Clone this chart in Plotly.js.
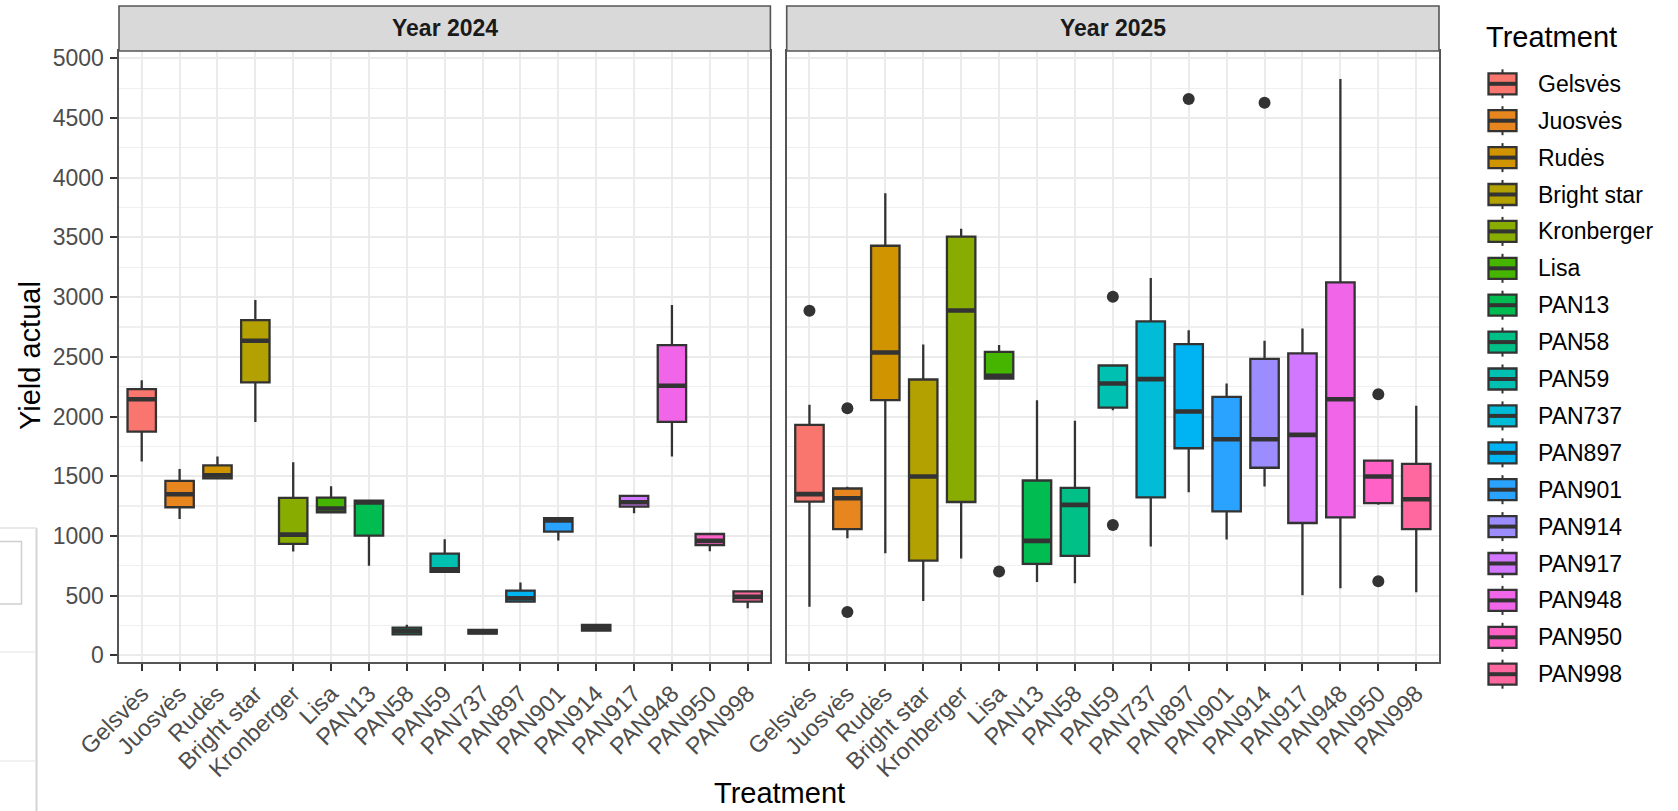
<!DOCTYPE html>
<html>
<head>
<meta charset="utf-8">
<script src="https://cdn.plot.ly/plotly-3.0.1.min.js"></script>
<style>
  html, body { margin: 0; padding: 0; background: #ffffff; }
  #chart { width: 1678px; height: 811px; }
</style>
</head>
<body>
<div id="chart"></div>
<script>
// ---------------- DATA ----------------
const treatments = ["Gelsvės","Juosvės","Rudės","Bright star","Kronberger","Lisa","PAN13","PAN58","PAN59","PAN737","PAN897","PAN901","PAN914","PAN917","PAN948","PAN950","PAN998"];
const years = ["Year 2024", "Year 2025"];

// Year 2024 box statistics (whisker low, Q1, median, Q3, whisker high)
const low2024    = [1623, 1142, 1480, 1953,  869, 1198,  751, 173, 698, 178, 444,  961, 204, 1190, 1665,  871, 394];
const q1_2024    = [1874, 1240, 1482, 2285,  933, 1198, 1003, 176, 700, 182, 450, 1036, 206, 1245, 1955,  924, 449];
const med2024    = [2145, 1349, 1508, 2634, 1011, 1229, 1280, 204, 720, 196, 478, 1130, 229, 1282, 2257,  960, 489];
const q3_2024    = [2229, 1461, 1590, 2807, 1318, 1321, 1296, 232, 852, 212, 542, 1148, 254, 1335, 2598, 1016, 536];
const high2024   = [2304, 1561, 1665, 2975, 1617, 1416, 1296, 255, 972, 218, 609, 1148, 265, 1335, 2933, 1016, 536];

// Year 2025 box statistics
const low2025    = [ 407,  980,  855,  455,  810, 2318,  615,  603, 2053,  912, 1366,  970, 1413,  503,  561, 1260,  528];
const q1_2025    = [1287, 1056, 2137,  793, 1284, 2318,  765,  833, 2075, 1322, 1734, 1206, 1571, 1108, 1156, 1274, 1056];
const med2025    = [1350, 1315, 2536, 1497, 2888, 2341,  958, 1260, 2277, 2313, 2042, 1810, 1810, 1846, 2145, 1497, 1307];
const q3_2025    = [1930, 1397, 3430, 2310, 3506, 2542, 1464, 1402, 2427, 2796, 2606, 2165, 2483, 2528, 3123, 1631, 1603];
const high2025   = [2098, 1411, 3869, 2603, 3573, 2598, 2137, 1964, 2427, 3160, 2723, 2277, 2634, 2737, 4827, 1631, 2089];

// Outliers (Year 2025)
const outTreat2025 = ["Gelsvės","Juosvės","Juosvės","Lisa","PAN59","PAN59","PAN897","PAN914","PAN950","PAN950"];
const outVal2025   = [2885, 2070, 363, 701, 3003, 1092, 4659, 4628, 2187, 620];
const outTreat2024 = [];
const outVal2024   = [];

const yTicks = [0, 500, 1000, 1500, 2000, 2500, 3000, 3500, 4000, 4500, 5000];

// ---------------- STYLE HELPERS ----------------
// ggplot2 default hue palette: hcl(h, c=100, l=65)
function hclHex(h, c, l) {
  const WX = 95.047, WY = 100.0, WZ = 108.883;
  const hr = h * Math.PI / 180;
  const U = c * Math.cos(hr), V = c * Math.sin(hr);
  const Y = l > 7.999592 ? WY * Math.pow((l + 16) / 116, 3) : WY * l / 903.3;
  const den = WX + 15 * WY + 3 * WZ;
  const un = 4 * WX / den, vn = 9 * WY / den;
  const u = U / (13 * l) + un, v = V / (13 * l) + vn;
  const X = 9.0 * Y * u / (4 * v);
  const Z = -X / 3 - 5 * Y + 3 * Y / v;
  const g = x => x > 0.00304 ? 1.055 * Math.pow(x, 1 / 2.4) - 0.055 : 12.92 * x;
  const r = g(( 3.240479 * X - 1.537150 * Y - 0.498535 * Z) / WY);
  const gg = g((-0.969256 * X + 1.875992 * Y + 0.041556 * Z) / WY);
  const b = g(( 0.055648 * X - 0.204043 * Y + 1.057311 * Z) / WY);
  const to = x => { const n = Math.round(Math.min(1, Math.max(0, x)) * 255); return n.toString(16).padStart(2, '0'); };
  return '#' + to(r) + to(gg) + to(b);
}
const nT = treatments.length;
const colors = treatments.map((t, i) => hclHex(15 + 360 * i / nT, 100, 65));

const FONT = "'Liberation Sans', Arial, Helvetica, sans-serif";
const W = 1678, H = 811, ML = 119, MR = 239, MT = 51, MB = 149;
const plotW = W - ML - MR, plotH = H - MT - MB;
const px2x = p => (p - ML) / plotW;
const px2y = p => (H - MB - p) / plotH;

const lineCol = '#333333';
const stats = {
  x:  {low: low2024, q1: q1_2024, med: med2024, q3: q3_2024, high: high2024, outT: outTreat2024, outV: outVal2024},
  x2: {low: low2025, q1: q1_2025, med: med2025, q3: q3_2025, high: high2025, outT: outTreat2025, outV: outVal2025}
};

// ---------------- TRACES ----------------
const traces = [];
['x', 'x2'].forEach((xa, k) => {
  const s = stats[xa];
  const ya = k === 0 ? 'y' : 'y2';
  treatments.forEach((t, i) => {
    traces.push({
      type: 'box', xaxis: xa, yaxis: ya, name: t, showlegend: false,
      x: [t], q1: [s.q1[i]], median: [s.med[i]], q3: [s.q3[i]],
      lowerfence: [s.low[i]], upperfence: [s.high[i]],
      width: 0.75, whiskerwidth: 0, boxpoints: false,
      fillcolor: colors[i], line: {color: lineCol, width: 2.3},
      hoverinfo: 'skip'
    });
  });
  // thick median bars (ggplot fatten)
  traces.push({
    type: 'box', xaxis: xa, yaxis: ya, showlegend: false,
    x: treatments, q1: s.med, median: s.med, q3: s.med, lowerfence: s.med, upperfence: s.med,
    width: 0.75, whiskerwidth: 0, boxpoints: false,
    fillcolor: 'rgba(0,0,0,0)', line: {color: lineCol, width: 4.6}, hoverinfo: 'skip'
  });
  if (s.outT.length) {
    traces.push({
      type: 'scatter', mode: 'markers', xaxis: xa, yaxis: ya, showlegend: false,
      x: s.outT, y: s.outV, marker: {color: lineCol, size: 12}, hoverinfo: 'skip', cliponaxis: false
    });
  }
});

// ---------------- LAYOUT ----------------
const tickFont = {family: FONT, size: 23, color: '#4D4D4D'};
const xTickFont = {family: FONT, size: 23.5, color: '#4D4D4D'};
const xBase = {
  type: 'category', categoryorder: 'array', categoryarray: treatments,
  range: [-0.6, nT - 0.4], showgrid: true, gridcolor: '#EBEBEB', gridwidth: 2,
  showline: true, mirror: true, linecolor: '#555555', linewidth: 1.6,
  ticks: 'outside', ticklen: 7, tickwidth: 2, tickcolor: lineCol,
  tickangle: -45, tickfont: xTickFont, zeroline: false, fixedrange: true
};
const yBase = {
  range: [-56, 5061], tickmode: 'array', tickvals: yTicks, ticktext: yTicks.map(String),
  showgrid: true, gridcolor: '#EBEBEB', gridwidth: 2,
  minor: {tickmode: 'array', tickvals: yTicks.map(v => v + 250), showgrid: true, gridcolor: '#EFEFEF', gridwidth: 1.2, ticks: ''},
  showline: true, mirror: true, linecolor: '#555555', linewidth: 1.6,
  zeroline: false, fixedrange: true
};

const panelX = [[119, 770.4], [786.7, 1439]];
const shapes = [];
const annotations = [];

// facet strips
years.forEach((yr, k) => {
  shapes.push({type: 'rect', xref: 'paper', yref: 'paper',
    x0: px2x(panelX[k][0]), x1: px2x(panelX[k][1]), y0: px2y(51), y1: px2y(6),
    fillcolor: '#D9D9D9', line: {color: '#555555', width: 1.6}, layer: 'above'});
  annotations.push({xref: 'paper', yref: 'paper', x: px2x((panelX[k][0] + panelX[k][1]) / 2), y: px2y(28.5),
    text: '<b>' + yr + '</b>', showarrow: false, xanchor: 'center', yanchor: 'middle',
    font: {family: FONT, size: 23, color: '#1A1A1A'}});
});

// axis titles
annotations.push({xref: 'paper', yref: 'paper', x: px2x(779.5), y: px2y(793), text: 'Treatment',
  showarrow: false, xanchor: 'center', yanchor: 'middle', font: {family: FONT, size: 29, color: '#000000'}});
annotations.push({xref: 'paper', yref: 'paper', x: px2x(30), y: px2y(356), text: 'Yield actual', textangle: -90,
  showarrow: false, xanchor: 'center', yanchor: 'middle', font: {family: FONT, size: 29, color: '#000000'}});

// legend (ggplot style keys)
annotations.push({xref: 'paper', yref: 'paper', x: px2x(1484), y: px2y(37), text: 'Treatment',
  showarrow: false, xanchor: 'left', yanchor: 'middle', font: {family: FONT, size: 29, color: '#000000'}});
treatments.forEach((t, i) => {
  const cy = 83.8 + i * 36.9;
  const kx0 = 1488.5, kx1 = 1516.5, kc = (kx0 + kx1) / 2;
  shapes.push({type: 'line', xref: 'paper', yref: 'paper', x0: px2x(kc), x1: px2x(kc),
    y0: px2y(cy - 14.5), y1: px2y(cy + 14.5), line: {color: lineCol, width: 2}});
  shapes.push({type: 'rect', xref: 'paper', yref: 'paper', x0: px2x(kx0), x1: px2x(kx1),
    y0: px2y(cy - 10.5), y1: px2y(cy + 10.5), fillcolor: colors[i], line: {color: lineCol, width: 2.3}});
  shapes.push({type: 'line', xref: 'paper', yref: 'paper', x0: px2x(kx0), x1: px2x(kx1),
    y0: px2y(cy), y1: px2y(cy), line: {color: lineCol, width: 4}});
  annotations.push({xref: 'paper', yref: 'paper', x: px2x(1536), y: px2y(cy), text: t,
    showarrow: false, xanchor: 'left', yanchor: 'middle', font: {family: FONT, size: 23, color: '#000000'}});
});

// screenshot frame remnants on the far left of the reference
shapes.push({type: 'line', xref: 'paper', yref: 'paper', x0: px2x(36.5), x1: px2x(36.5), y0: px2y(528), y1: px2y(811), line: {color: '#D4D4D4', width: 2}});
shapes.push({type: 'line', xref: 'paper', yref: 'paper', x0: px2x(0), x1: px2x(36.5), y0: px2y(528), y1: px2y(528), line: {color: '#E2E2E2', width: 1.5}});
shapes.push({type: 'rect', xref: 'paper', yref: 'paper', x0: px2x(-2), x1: px2x(21.5), y0: px2y(541.5), y1: px2y(604), line: {color: '#CFCFCF', width: 1.5}, fillcolor: 'rgba(0,0,0,0)'});
shapes.push({type: 'line', xref: 'paper', yref: 'paper', x0: px2x(0), x1: px2x(36), y0: px2y(652), y1: px2y(652), line: {color: '#EDEDED', width: 1.5}});
shapes.push({type: 'line', xref: 'paper', yref: 'paper', x0: px2x(0), x1: px2x(36), y0: px2y(761), y1: px2y(761), line: {color: '#EDEDED', width: 1.5}});

const layout = {
  width: W, height: H,
  margin: {l: ML, r: MR, t: MT, b: MB, pad: 0},
  paper_bgcolor: '#FFFFFF', plot_bgcolor: '#FFFFFF',
  showlegend: false, boxmode: 'overlay',
  font: {family: FONT, color: '#000000'},
  xaxis: Object.assign({}, xBase, {domain: [0, px2x(770.4)], anchor: 'y'}),
  xaxis2: Object.assign({}, xBase, {domain: [px2x(786.7), 1], anchor: 'y2'}),
  yaxis: Object.assign({}, yBase, {anchor: 'x', ticks: 'outside', ticklen: 7, tickwidth: 2, tickcolor: lineCol,
    tickfont: tickFont, ticklabelstandoff: 2}),
  yaxis2: Object.assign({}, yBase, {anchor: 'x2', matches: 'y', showticklabels: false, ticks: ''}),
  shapes: shapes,
  annotations: annotations
};

Plotly.newPlot('chart', traces, layout, {displayModeBar: false, staticPlot: true});
</script>
</body>
</html>
